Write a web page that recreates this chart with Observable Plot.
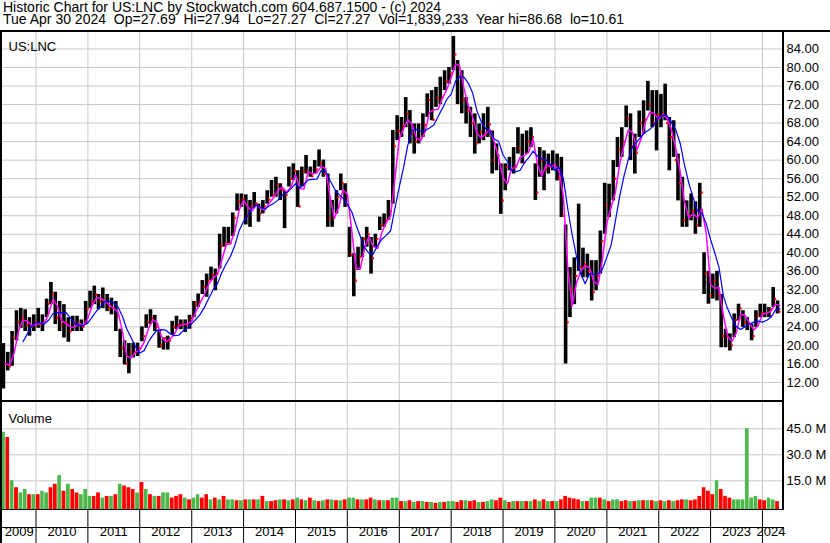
<!DOCTYPE html>
<html><head><meta charset="utf-8">
<script src="https://cdn.jsdelivr.net/npm/d3@7"></script>
<script src="https://cdn.jsdelivr.net/npm/@observablehq/plot@0.6"></script>
<style>
body{margin:0;background:#fff;}
#c{position:relative;width:830px;height:543px;overflow:hidden;background:#fff;font-family:"Liberation Sans",Arial,sans-serif;color:#000;}
#hdr{position:absolute;left:0;top:0;width:830px;height:30px;font-size:14px;line-height:12px;white-space:pre;padding:1px 0 0 3px;box-sizing:border-box;}
.ln{position:absolute;background:#000;}
.pl{position:absolute;left:0;}
</style></head><body>
<div id="c">
<div id="hdr">Historic Chart for US:LNC by Stockwatch.com 604.687.1500 - (c) 2024
Tue Apr 30 2024  Op=27.69  Hi=27.94  Lo=27.27  Cl=27.27  Vol=1,839,233  Year hi=86.68  lo=10.61</div>
<div id="price" class="pl" style="top:32px"></div>
<div id="vol" class="pl" style="top:402px"></div>
<div id="strip" class="pl" style="top:510px"></div>
<div class="ln" style="left:0;top:30px;width:830px;height:2px"></div>
<div class="ln" style="left:0;top:400px;width:784px;height:2px"></div>
<div class="ln" style="left:0;top:509px;width:784px;height:1px"></div>
<div class="ln" style="left:0;top:527px;width:784px;height:1px"></div>
<div class="ln" style="left:0;top:32px;width:2px;height:511px"></div>
<div class="ln" style="left:782px;top:32px;width:2px;height:478px"></div>
</div>
<script>
// ---- data (monthly, May 2009 .. Apr 2024) ----
const firstMonth = [2009, 4]; // May 2009 (0-based month)
const hi = [
  20.4, 18.5, 23, 27.5, 28, 27.7, 26, 26.6,
  28, 26.6, 30, 33.6, 31.5, 29.5, 28.8, 26, 26.3, 26.3, 25.5, 29.5,
  31.7, 32.8, 31, 32.4, 31, 30.2, 29.5, 23.5, 21, 20.4, 20.5, 20.5,
  24, 26.6, 27.7, 26.5, 23.3, 21.6, 22, 25.2, 26.3, 25.5, 25.5, 26.5,
  29.5, 31.1, 34, 35.4, 36.9, 36.5, 44, 45.5, 45.5, 48.6, 52.7, 52.7,
  52.5, 51.3, 53, 50.5, 51.3, 53.4, 55.6, 56.3, 54.9, 53.4, 58.5, 59.2,
  57.7, 58.5, 61, 58.5, 59.9, 62.2, 60, 57, 51.3, 53.4, 57, 54.9,
  45.5, 39.8, 41.2, 43.3, 45.5, 43.3, 44, 47.7, 48.4, 51.3, 66.4, 69.6,
  69.2, 73.5, 70.7, 67.8, 67.8, 70, 74.3, 75, 75.7, 77.9, 79.3, 80,
  86.7, 81.5, 79.3, 73.5, 71.4, 70, 67.8, 70, 71.4, 66.3, 63.5, 59.2,
  59.2, 60.6, 62.7, 67, 65.6, 66.3, 67, 59.2, 62.7, 62, 61.3, 62,
  61.3, 60.6, 46, 36.8, 38.9, 50.5, 41, 39.7, 38.3, 38.3, 44.7, 55,
  54.8, 59.9, 64.9, 67, 71.7, 70, 65.6, 70.6, 72.8, 77, 75, 75,
  74.2, 76.4, 69.2, 68.5, 61.3, 56.3, 51.2, 52.7, 51, 55, 40, 36,
  35.4, 36, 31, 23.5, 22.5, 26.8, 28.9, 27.5, 26, 24.6, 27.5, 28.9,
  28.9, 28.2, 32.5, 29.6
];
const lo = [
  10.6, 14.5, 15.5, 21, 23.7, 23, 22, 23,
  23.7, 23, 26, 28.8, 24.5, 23, 21.6, 20.7, 23, 23, 23, 24.5,
  28, 28.8, 27.7, 28, 27.3, 26.6, 23, 17.4, 15.8, 13.9, 17.3, 17.6,
  20.8, 23.7, 24.5, 23, 19.4, 19, 19, 22.3, 23.4, 23.4, 22.8, 23.5,
  26, 28.2, 31, 30.4, 34, 31.8, 36.5, 41.2, 41.9, 43.5, 49, 49.8,
  46, 45.5, 49.8, 46.6, 48.4, 50.5, 52, 52, 51.3, 45.2, 54.2, 55.6,
  49.8, 54.2, 57, 56.3, 57, 58.5, 56.3, 45.5, 45.5, 48.4, 53.4, 49.8,
  39, 30.5, 36.2, 39, 41.2, 35.4, 41.2, 44.8, 45.5, 47, 50.5, 64.2,
  64.9, 67, 63.5, 61.3, 63.5, 64.9, 69.2, 68.5, 71.4, 72, 75, 76.4,
  79.3, 72, 70, 67.8, 64.9, 61.3, 63.5, 64.2, 64.9, 57, 57.7, 48.3,
  53.4, 57.7, 57, 61.3, 59.2, 61.3, 62.7, 51.3, 56.3, 53.4, 57, 57.7,
  55.5, 47.6, 16, 26, 28.8, 36, 34.6, 34.6, 29.6, 31.8, 35.4, 44,
  47.6, 51.2, 58.4, 60.6, 67, 59.9, 57, 64.9, 65.6, 70.6, 67, 62,
  67, 68.5, 57.7, 60.6, 51.2, 45.5, 45.5, 46.9, 44, 45.5, 31, 28.9,
  30, 29.6, 19.5, 19.5, 18.8, 21.7, 25.3, 23.9, 23.2, 21, 23.9, 26,
  26, 26, 28.2, 26.8
];
const cl = [
  16, 15.5, 21.5, 25, 26, 24.5, 24, 25,
  24.5, 25, 29, 31, 26, 24.5, 25, 23, 25, 24.5, 24, 27.8,
  29.5, 31, 29.5, 29.5, 28, 28, 26.5, 19.5, 16, 18.5, 18.5, 19.4,
  22, 25, 26, 24, 20, 21.6, 21, 24, 24.4, 24.7, 24.5, 25.9,
  29, 29.4, 32.6, 34, 35.2, 35.5, 41.5, 42, 42, 47.5, 51, 51.6,
  48, 50, 50.7, 48.5, 50, 51.5, 52.4, 54.7, 53.6, 52.5, 56, 57.7,
  50, 57.5, 57.5, 56.5, 58, 59.3, 57, 47.5, 47.5, 52, 55, 50.3,
  39.5, 34, 39, 43, 44, 38.8, 43, 46, 47, 49, 63, 66.3,
  67.4, 70, 65.5, 64, 64.5, 67.6, 73, 68.7, 73.3, 73.5, 77, 78.7,
  82.8, 78, 73, 70.7, 68, 63.6, 66, 65.5, 67.7, 60, 61, 51.3,
  58.5, 58, 58.7, 62.5, 59.5, 64, 65, 53, 60, 58, 59, 59,
  56, 48, 25, 32, 35, 37, 37.5, 36, 31.5, 35, 42.5, 50.3,
  49.8, 56, 62.3, 64, 69, 63, 61.6, 68, 68.8, 72, 68, 69.8,
  70, 68, 65, 60, 55, 47, 48, 49, 46, 53, 35.5, 30.7,
  34, 31, 22, 21.8, 20, 25.5, 28, 25, 24.7, 22, 26.5, 27,
  27, 27.8, 30, 27.3
];
// volume, millions of shares
const vol = [
  43, 40, 15, 11, 8, 10, 7, 7,
  7, 9, 8, 11, 13, 18, 9, 13, 10, 8, 7, 10,
  6, 6, 8, 5, 6, 6, 7, 13, 12, 11, 10, 8,
  14, 10, 7, 6, 6, 8, 8, 5, 6, 7, 5, 4,
  5, 7, 5, 7, 4, 5, 4, 6, 4, 4, 3.5, 3.5,
  4, 4, 4, 4, 6, 3, 3, 3.5, 4, 4, 3.5, 4,
  5, 4, 3.5, 5, 3.5, 3, 3.5, 4, 4, 3.5, 3.5, 4,
  5, 5, 4, 4, 4, 5, 4, 3.5, 3.5, 3.5, 5, 5,
  3, 3, 3.5, 2.5, 3, 3, 2.5, 2.5, 2, 2.5, 2.5, 3,
  3, 2.5, 3.5, 3.5, 3, 3.5, 2.5, 2.5, 3, 4, 3.5, 5,
  3.5, 2.5, 3, 3, 3, 3, 3, 4, 3, 4, 3, 3,
  3, 4, 6, 5, 4.5, 4, 3, 3, 5, 5, 5, 4,
  3, 4, 4, 3, 3.5, 3, 3, 3.5, 3.5, 3.5, 3.5, 3,
  3.5, 3, 3.5, 3, 3.5, 4, 4, 3.5, 4, 6, 11, 9,
  7, 15, 10, 6, 5, 4, 4, 4, 45, 5, 6, 4,
  3.5, 5, 4, 3
];
// g = up (green) bar, r = down (red) bar
const volDir =
  "grgrggrg" + "rggrrgrgrrgg" + "grrgrgrgrrrg" + "rgrgrggrrrgr" +
  "ggrrgrgrggrg" + "rgrgrgrrgrgr" + "grgrgrgrgrgr" + "ggrgrrgrgrgg" +
  "rgrgrgrgrgrg" + "grrgrrgrggrr" + "grgrgrgrgrgr" + "grrrrrgrggrg" +
  "rggrrgrgrgrg" + "rgrgrrgrrrrr" + "rgrrrggggggr" + "rggr";
const priceTicks = [12, 16, 20, 24, 28, 32, 36, 40, 44, 48, 52, 56, 60, 64, 68, 72, 76, 80, 84];
const volTicks = [15, 30, 45];
const years = [2009, 2010, 2011, 2012, 2013, 2014, 2015, 2016, 2017, 2018, 2019, 2020, 2021, 2022, 2023, 2024];
const lastDay = "2024-04-30";

// ---- build table ----
const n = hi.length;
if (lo.length !== n || cl.length !== n || vol.length !== n || volDir.length !== n)
  throw new Error(`length mismatch ${n} ${lo.length} ${cl.length} ${vol.length} ${volDir.length}`);
const rows = hi.map((h, i) => {
  const start = new Date(Date.UTC(firstMonth[0], firstMonth[1] + i, 1));
  const end = new Date(Date.UTC(firstMonth[0], firstMonth[1] + i + 1, 1));
  return {start, end, mid: new Date((+start + +end) / 2), hi: h, lo: lo[i], cl: cl[i], vol: vol[i], up: volDir[i] === "g"};
});

const xDomain = [new Date(Date.UTC(2009, 4, 10)), new Date(Date.UTC(2024, 4, 21))];
const yearStarts = years.slice(1).map(y => new Date(Date.UTC(y, 0, 1)));
const dataEnd = new Date(lastDay);
const yearLabels = years.map(y => {
  const a = new Date(Math.max(+new Date(Date.UTC(y, 0, 1)), +xDomain[0]));
  const b = new Date(Math.min(+new Date(Date.UTC(y + 1, 0, 1)), +dataEnd));
  return {label: String(y), x: new Date((+a + +b) / 2)};
});

const FONT = '"Liberation Sans", Arial, sans-serif';
const common = {
  width: 830, marginLeft: 2, marginRight: 48, marginTop: 0, marginBottom: 0,
  x: {type: "utc", domain: xDomain, axis: null},
  style: {fontFamily: FONT, fontSize: "13px", background: "transparent", overflow: "visible", color: "#000"}
};
const GRID = "#c8c8c8";

const priceDomain = [8.115, 87.55];
const price = Plot.plot({
  ...common, height: 368,
  y: {domain: priceDomain, axis: null},
  marks: [
    Plot.ruleY(priceTicks, {stroke: GRID, strokeOpacity: 1}),
    Plot.ruleX(yearStarts, {stroke: GRID, strokeOpacity: 1}),
    Plot.ruleX(rows, {x: "mid", y1: "lo", y2: "hi", stroke: "#000", strokeWidth: 3.6}),
    Plot.dot(rows, {x: "mid", y: "cl", symbol: "square", r: 1.2, fill: "#ff0000", stroke: null, dx: 2}),
    Plot.lineY(rows, Plot.windowY({k: 2, anchor: "end"}, {x: "end", y: "cl", stroke: "#ff00ff", strokeWidth: 1.5})),
    Plot.lineY(rows, Plot.windowY({k: 5, anchor: "end", strict: true}, {x: "end", y: "cl", stroke: "#0000ff", strokeWidth: 1.2})),
    Plot.text(priceTicks, {y: d => d, text: d => d.toFixed(2), frameAnchor: "right", dx: 4, textAnchor: "start", fill: "#000"}),
    Plot.text(["US:LNC"], {frameAnchor: "top-left", dx: 6, dy: 9, textAnchor: "start", fill: "#000", fontSize: 13})
  ]
});
document.getElementById("price").append(price);

const volDomain = [-2.13, 60.17];
const volume = Plot.plot({
  ...common, height: 108,
  y: {domain: volDomain, axis: null},
  marks: [
    Plot.ruleY(volTicks, {stroke: GRID, strokeOpacity: 1}),
    Plot.ruleX(yearStarts, {stroke: GRID, strokeOpacity: 1}),
    Plot.rect(rows, {x1: "start", x2: "end", y1: () => volDomain[0], y2: "vol", fill: d => d.up ? "#4cb84c" : "#ff0000", insetLeft: 0.3, insetRight: 0.3}),
    Plot.text(volTicks, {y: d => d, text: d => d.toFixed(1) + " M", frameAnchor: "right", dx: 4, textAnchor: "start", fill: "#000"}),
    Plot.text(["Volume"], {frameAnchor: "top-left", dx: 6, dy: 11, textAnchor: "start", fill: "#000", fontSize: 13})
  ]
});
document.getElementById("vol").append(volume);

const strip = Plot.plot({
  ...common, height: 33,
  y: {domain: [0, 1], axis: null},
  marks: [
    Plot.ruleX(yearStarts, {stroke: "#000"}),
    Plot.text(yearLabels, {x: "x", text: "label", frameAnchor: "bottom", dy: -8, fill: "#000", fontSize: 13})
  ]
});
document.getElementById("strip").append(strip);
</script>
</body></html>
